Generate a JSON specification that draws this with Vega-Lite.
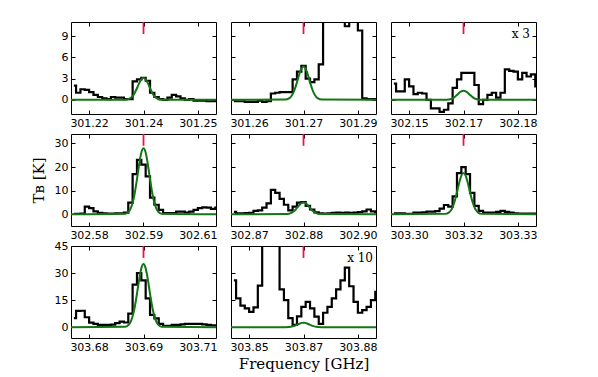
{
"$schema":"https://vega.github.io/schema/vega-lite/v6.json",
"padding":{"left":30,"top":20,"right":5,"bottom":5},
"background":"white",
"bounds":"flush",
"columns":3,
"spacing":{"row":20,"column":15},
"config":{
 "view":{"stroke":"black","strokeWidth":1},
 "axis":{"grid":false,"domain":false,"ticks":true,"tickSize":-4,"tickColor":"black","tickWidth":1,"labelFont":"DejaVu Sans","labelFontSize":11,"labelColor":"black","labelPadding":7,"labelFlush":false,"labelOverlap":false,"titleFont":"DejaVu Serif","titleFontSize":15,"titleFontWeight":"normal","titleColor":"black"}
},
"datasets":{
"spec":[
{"p":1,"f":301.2206,"t":2.0},{"p":1,"f":301.2218,"t":1.0},{"p":1,"f":301.2230,"t":1.5},{"p":1,"f":301.2242,"t":1.4},{"p":1,"f":301.2254,"t":1.1},{"p":1,"f":301.2266,"t":0.7},{"p":1,"f":301.2278,"t":0.4},{"p":1,"f":301.2290,"t":0.2},{"p":1,"f":301.2302,"t":0.1},{"p":1,"f":301.2314,"t":0.4},{"p":1,"f":301.2326,"t":0.3},{"p":1,"f":301.2338,"t":0.3},{"p":1,"f":301.2350,"t":0.1},{"p":1,"f":301.2362,"t":0.1},{"p":1,"f":301.2374,"t":2.6},{"p":1,"f":301.2386,"t":2.9},{"p":1,"f":301.2398,"t":3.1},{"p":1,"f":301.2410,"t":2.7},{"p":1,"f":301.2422,"t":1.0},{"p":1,"f":301.2434,"t":0.4},{"p":1,"f":301.2446,"t":0.1},{"p":1,"f":301.2458,"t":0.0},{"p":1,"f":301.2470,"t":0.3},{"p":1,"f":301.2482,"t":0.7},{"p":1,"f":301.2494,"t":0.5},{"p":1,"f":301.2506,"t":0.2},{"p":1,"f":301.2518,"t":0.0},{"p":1,"f":301.2530,"t":0.1},{"p":1,"f":301.2542,"t":-0.1},{"p":1,"f":301.2554,"t":-0.1},{"p":1,"f":301.2566,"t":-0.1},{"p":1,"f":301.2578,"t":-0.2},{"p":1,"f":301.2590,"t":-0.2},{"p":1,"f":301.2602,"t":-0.2},
{"p":2,"f":301.2513,"t":-0.2},{"p":2,"f":301.2525,"t":-0.2},{"p":2,"f":301.2537,"t":-0.2},{"p":2,"f":301.2549,"t":-0.3},{"p":2,"f":301.2561,"t":-0.3},{"p":2,"f":301.2573,"t":-0.3},{"p":2,"f":301.2585,"t":-0.1},{"p":2,"f":301.2597,"t":-0.3},{"p":2,"f":301.2609,"t":-0.2},{"p":2,"f":301.2621,"t":0.9},{"p":2,"f":301.2633,"t":1.0},{"p":2,"f":301.2645,"t":1.1},{"p":2,"f":301.2657,"t":1.1},{"p":2,"f":301.2669,"t":1.1},{"p":2,"f":301.2681,"t":2.9},{"p":2,"f":301.2693,"t":4.0},{"p":2,"f":301.2705,"t":4.8},{"p":2,"f":301.2717,"t":3.0},{"p":2,"f":301.2729,"t":2.5},{"p":2,"f":301.2741,"t":2.9},{"p":2,"f":301.2753,"t":5.0},{"p":2,"f":301.2765,"t":14},{"p":2,"f":301.2777,"t":20},{"p":2,"f":301.2789,"t":20},{"p":2,"f":301.2801,"t":20},{"p":2,"f":301.2813,"t":15},{"p":2,"f":301.2825,"t":10.4},{"p":2,"f":301.2837,"t":15},{"p":2,"f":301.2849,"t":12},{"p":2,"f":301.2861,"t":9.8},{"p":2,"f":301.2873,"t":0.2},{"p":2,"f":301.2885,"t":0.1},{"p":2,"f":301.2897,"t":0.1},{"p":2,"f":301.2909,"t":0.1},
{"p":3,"f":302.1483,"t":2.3},{"p":3,"f":302.1495,"t":1.2},{"p":3,"f":302.1507,"t":1.2},{"p":3,"f":302.1519,"t":2.9},{"p":3,"f":302.1531,"t":1.9},{"p":3,"f":302.1543,"t":0.8},{"p":3,"f":302.1555,"t":1.0},{"p":3,"f":302.1567,"t":0.9},{"p":3,"f":302.1579,"t":0.0},{"p":3,"f":302.1591,"t":-1.2},{"p":3,"f":302.1603,"t":-1.2},{"p":3,"f":302.1615,"t":-1.7},{"p":3,"f":302.1627,"t":-1.4},{"p":3,"f":302.1639,"t":-0.5},{"p":3,"f":302.1651,"t":1.7},{"p":3,"f":302.1663,"t":2.9},{"p":3,"f":302.1675,"t":3.8},{"p":3,"f":302.1687,"t":3.8},{"p":3,"f":302.1699,"t":3.8},{"p":3,"f":302.1711,"t":2.1},{"p":3,"f":302.1723,"t":-0.6},{"p":3,"f":302.1735,"t":0.0},{"p":3,"f":302.1747,"t":0.7},{"p":3,"f":302.1759,"t":1.0},{"p":3,"f":302.1771,"t":0.3},{"p":3,"f":302.1783,"t":1.0},{"p":3,"f":302.1795,"t":4.3},{"p":3,"f":302.1807,"t":4.1},{"p":3,"f":302.1819,"t":4.0},{"p":3,"f":302.1831,"t":2.9},{"p":3,"f":302.1843,"t":3.8},{"p":3,"f":302.1855,"t":3.3},{"p":3,"f":302.1867,"t":3.6},{"p":3,"f":302.1879,"t":1.9},
{"p":4,"f":302.5733,"t":0.1},{"p":4,"f":302.5745,"t":0.1},{"p":4,"f":302.5757,"t":0.3},{"p":4,"f":302.5769,"t":3.2},{"p":4,"f":302.5781,"t":2.6},{"p":4,"f":302.5793,"t":1.2},{"p":4,"f":302.5805,"t":0.6},{"p":4,"f":302.5817,"t":0.4},{"p":4,"f":302.5829,"t":0.3},{"p":4,"f":302.5841,"t":0.3},{"p":4,"f":302.5853,"t":0.4},{"p":4,"f":302.5865,"t":0.4},{"p":4,"f":302.5877,"t":0.7},{"p":4,"f":302.5889,"t":4.9},{"p":4,"f":302.5901,"t":17},{"p":4,"f":302.5913,"t":23},{"p":4,"f":302.5925,"t":21},{"p":4,"f":302.5937,"t":16},{"p":4,"f":302.5949,"t":7.0},{"p":4,"f":302.5961,"t":4.0},{"p":4,"f":302.5973,"t":1.8},{"p":4,"f":302.5985,"t":0.5},{"p":4,"f":302.5997,"t":0.5},{"p":4,"f":302.6009,"t":0.5},{"p":4,"f":302.6021,"t":1.1},{"p":4,"f":302.6033,"t":1.1},{"p":4,"f":302.6045,"t":0.7},{"p":4,"f":302.6057,"t":1.1},{"p":4,"f":302.6069,"t":1.8},{"p":4,"f":302.6081,"t":2.6},{"p":4,"f":302.6093,"t":2.9},{"p":4,"f":302.6105,"t":2.8},{"p":4,"f":302.6117,"t":2.3},{"p":4,"f":302.6129,"t":2.8},
{"p":5,"f":302.8633,"t":1.0},{"p":5,"f":302.8645,"t":0.4},{"p":5,"f":302.8657,"t":0.4},{"p":5,"f":302.8669,"t":0.5},{"p":5,"f":302.8681,"t":0.6},{"p":5,"f":302.8693,"t":1.4},{"p":5,"f":302.8705,"t":1.6},{"p":5,"f":302.8717,"t":2.8},{"p":5,"f":302.8729,"t":4.6},{"p":5,"f":302.8741,"t":10.3},{"p":5,"f":302.8753,"t":9.0},{"p":5,"f":302.8765,"t":6.5},{"p":5,"f":302.8777,"t":4.0},{"p":5,"f":302.8789,"t":1.6},{"p":5,"f":302.8801,"t":3.2},{"p":5,"f":302.8813,"t":4.9},{"p":5,"f":302.8825,"t":5.1},{"p":5,"f":302.8837,"t":3.5},{"p":5,"f":302.8849,"t":2.0},{"p":5,"f":302.8861,"t":0.8},{"p":5,"f":302.8873,"t":0.4},{"p":5,"f":302.8885,"t":0.3},{"p":5,"f":302.8897,"t":0.4},{"p":5,"f":302.8909,"t":0.6},{"p":5,"f":302.8921,"t":0.7},{"p":5,"f":302.8933,"t":0.6},{"p":5,"f":302.8945,"t":0.7},{"p":5,"f":302.8957,"t":0.6},{"p":5,"f":302.8969,"t":0.7},{"p":5,"f":302.8981,"t":0.9},{"p":5,"f":302.8993,"t":1.2},{"p":5,"f":302.9005,"t":2.0},{"p":5,"f":302.9017,"t":1.2},{"p":5,"f":302.9029,"t":0.9},
{"p":6,"f":303.2983,"t":0.4},{"p":6,"f":303.2995,"t":0.4},{"p":6,"f":303.3007,"t":0.4},{"p":6,"f":303.3019,"t":0.2},{"p":6,"f":303.3031,"t":0.1},{"p":6,"f":303.3043,"t":0.7},{"p":6,"f":303.3055,"t":0.7},{"p":6,"f":303.3067,"t":0.8},{"p":6,"f":303.3079,"t":1.1},{"p":6,"f":303.3091,"t":1.1},{"p":6,"f":303.3103,"t":1.3},{"p":6,"f":303.3115,"t":2.4},{"p":6,"f":303.3127,"t":3.9},{"p":6,"f":303.3139,"t":3.2},{"p":6,"f":303.3151,"t":7.6},{"p":6,"f":303.3163,"t":17.4},{"p":6,"f":303.3175,"t":20},{"p":6,"f":303.3187,"t":17},{"p":6,"f":303.3199,"t":9.0},{"p":6,"f":303.3211,"t":3.5},{"p":6,"f":303.3223,"t":1.4},{"p":6,"f":303.3235,"t":0.7},{"p":6,"f":303.3247,"t":0.7},{"p":6,"f":303.3259,"t":0.7},{"p":6,"f":303.3271,"t":1.0},{"p":6,"f":303.3283,"t":1.4},{"p":6,"f":303.3295,"t":1.0},{"p":6,"f":303.3307,"t":0.7},{"p":6,"f":303.3319,"t":0.4},{"p":6,"f":303.3331,"t":0.3},{"p":6,"f":303.3343,"t":0.3},{"p":6,"f":303.3355,"t":0.3},{"p":6,"f":303.3367,"t":0.3},{"p":6,"f":303.3379,"t":0.3},
{"p":7,"f":303.6733,"t":5.0},{"p":7,"f":303.6745,"t":9.0},{"p":7,"f":303.6757,"t":9.1},{"p":7,"f":303.6769,"t":5.5},{"p":7,"f":303.6781,"t":2.5},{"p":7,"f":303.6793,"t":1.8},{"p":7,"f":303.6805,"t":1.3},{"p":7,"f":303.6817,"t":1.3},{"p":7,"f":303.6829,"t":1.3},{"p":7,"f":303.6841,"t":1.4},{"p":7,"f":303.6853,"t":2.2},{"p":7,"f":303.6865,"t":3.1},{"p":7,"f":303.6877,"t":2.6},{"p":7,"f":303.6889,"t":7.5},{"p":7,"f":303.6901,"t":23.6},{"p":7,"f":303.6913,"t":30},{"p":7,"f":303.6925,"t":26},{"p":7,"f":303.6937,"t":16},{"p":7,"f":303.6949,"t":6.8},{"p":7,"f":303.6961,"t":4.9},{"p":7,"f":303.6973,"t":1.8},{"p":7,"f":303.6985,"t":0.7},{"p":7,"f":303.6997,"t":0.7},{"p":7,"f":303.7009,"t":1.3},{"p":7,"f":303.7021,"t":1.3},{"p":7,"f":303.7033,"t":1.6},{"p":7,"f":303.7045,"t":1.8},{"p":7,"f":303.7057,"t":1.8},{"p":7,"f":303.7069,"t":1.8},{"p":7,"f":303.7081,"t":1.8},{"p":7,"f":303.7093,"t":1.5},{"p":7,"f":303.7105,"t":1.3},{"p":7,"f":303.7117,"t":1.0},{"p":7,"f":303.7129,"t":1.0},
{"p":8,"f":303.8483,"t":26},{"p":8,"f":303.8495,"t":16},{"p":8,"f":303.8507,"t":12},{"p":8,"f":303.8519,"t":10.4},{"p":8,"f":303.8531,"t":8.5},{"p":8,"f":303.8543,"t":11},{"p":8,"f":303.8555,"t":23},{"p":8,"f":303.8567,"t":60},{"p":8,"f":303.8579,"t":60},{"p":8,"f":303.8591,"t":60},{"p":8,"f":303.8603,"t":60},{"p":8,"f":303.8615,"t":21},{"p":8,"f":303.8627,"t":15},{"p":8,"f":303.8639,"t":5.0},{"p":8,"f":303.8651,"t":1.3},{"p":8,"f":303.8663,"t":6},{"p":8,"f":303.8675,"t":11.3},{"p":8,"f":303.8687,"t":14},{"p":8,"f":303.8699,"t":10.4},{"p":8,"f":303.8711,"t":5.9},{"p":8,"f":303.8723,"t":1.8},{"p":8,"f":303.8735,"t":8.0},{"p":8,"f":303.8747,"t":11.3},{"p":8,"f":303.8759,"t":16},{"p":8,"f":303.8771,"t":21},{"p":8,"f":303.8783,"t":26},{"p":8,"f":303.8795,"t":33},{"p":8,"f":303.8807,"t":22.7},{"p":8,"f":303.8819,"t":14},{"p":8,"f":303.8831,"t":8},{"p":8,"f":303.8843,"t":9.5},{"p":8,"f":303.8855,"t":11.3},{"p":8,"f":303.8867,"t":15},{"p":8,"f":303.8879,"t":19.6}
],
"fit":[
{"p":1,"f":301.2198,"t":0},{"p":1,"f":301.2348,"t":0.02},{"p":1,"f":301.2358,"t":0.14},{"p":1,"f":301.2363,"t":0.28},{"p":1,"f":301.2368,"t":0.53},{"p":1,"f":301.2373,"t":0.91},{"p":1,"f":301.2378,"t":1.42},{"p":1,"f":301.2383,"t":2.0},{"p":1,"f":301.2388,"t":2.55},{"p":1,"f":301.2393,"t":2.95},{"p":1,"f":301.2398,"t":3.1},{"p":1,"f":301.2403,"t":2.95},{"p":1,"f":301.2408,"t":2.55},{"p":1,"f":301.2413,"t":2.0},{"p":1,"f":301.2418,"t":1.42},{"p":1,"f":301.2423,"t":0.91},{"p":1,"f":301.2428,"t":0.53},{"p":1,"f":301.2433,"t":0.28},{"p":1,"f":301.2438,"t":0.14},{"p":1,"f":301.2448,"t":0.02},{"p":1,"f":301.2598,"t":0},
{"p":2,"f":301.2505,"t":0},{"p":2,"f":301.2655,"t":0.04},{"p":2,"f":301.2665,"t":0.21},{"p":2,"f":301.2670,"t":0.43},{"p":2,"f":301.2675,"t":0.81},{"p":2,"f":301.2680,"t":1.39},{"p":2,"f":301.2685,"t":2.15},{"p":2,"f":301.2690,"t":3.03},{"p":2,"f":301.2695,"t":3.87},{"p":2,"f":301.2700,"t":4.47},{"p":2,"f":301.2705,"t":4.7},{"p":2,"f":301.2710,"t":4.47},{"p":2,"f":301.2715,"t":3.87},{"p":2,"f":301.2720,"t":3.03},{"p":2,"f":301.2725,"t":2.15},{"p":2,"f":301.2730,"t":1.39},{"p":2,"f":301.2735,"t":0.81},{"p":2,"f":301.2740,"t":0.43},{"p":2,"f":301.2745,"t":0.21},{"p":2,"f":301.2755,"t":0.04},{"p":2,"f":301.2905,"t":0},
{"p":3,"f":302.1475,"t":0},{"p":3,"f":302.1625,"t":0.01},{"p":3,"f":302.1635,"t":0.06},{"p":3,"f":302.1640,"t":0.12},{"p":3,"f":302.1645,"t":0.22},{"p":3,"f":302.1650,"t":0.38},{"p":3,"f":302.1655,"t":0.6},{"p":3,"f":302.1660,"t":0.84},{"p":3,"f":302.1665,"t":1.07},{"p":3,"f":302.1670,"t":1.24},{"p":3,"f":302.1675,"t":1.3},{"p":3,"f":302.1680,"t":1.24},{"p":3,"f":302.1685,"t":1.07},{"p":3,"f":302.1690,"t":0.84},{"p":3,"f":302.1695,"t":0.6},{"p":3,"f":302.1700,"t":0.38},{"p":3,"f":302.1705,"t":0.22},{"p":3,"f":302.1710,"t":0.12},{"p":3,"f":302.1715,"t":0.06},{"p":3,"f":302.1725,"t":0.01},{"p":3,"f":302.1875,"t":0},
{"p":4,"f":302.5725,"t":0},{"p":4,"f":302.5875,"t":0.22},{"p":4,"f":302.5885,"t":1.23},{"p":4,"f":302.5890,"t":2.55},{"p":4,"f":302.5895,"t":4.82},{"p":4,"f":302.5900,"t":8.26},{"p":4,"f":302.5905,"t":12.82},{"p":4,"f":302.5910,"t":18.03},{"p":4,"f":302.5915,"t":23.04},{"p":4,"f":302.5920,"t":26.66},{"p":4,"f":302.5925,"t":28},{"p":4,"f":302.5930,"t":26.66},{"p":4,"f":302.5935,"t":23.04},{"p":4,"f":302.5940,"t":18.03},{"p":4,"f":302.5945,"t":12.82},{"p":4,"f":302.5950,"t":8.26},{"p":4,"f":302.5955,"t":4.82},{"p":4,"f":302.5960,"t":2.55},{"p":4,"f":302.5965,"t":1.23},{"p":4,"f":302.5975,"t":0.22},{"p":4,"f":302.6125,"t":0},
{"p":5,"f":302.8625,"t":0},{"p":5,"f":302.8775,"t":0.04},{"p":5,"f":302.8785,"t":0.22},{"p":5,"f":302.8790,"t":0.46},{"p":5,"f":302.8795,"t":0.86},{"p":5,"f":302.8800,"t":1.48},{"p":5,"f":302.8805,"t":2.29},{"p":5,"f":302.8810,"t":3.22},{"p":5,"f":302.8815,"t":4.12},{"p":5,"f":302.8820,"t":4.76},{"p":5,"f":302.8825,"t":5.0},{"p":5,"f":302.8830,"t":4.76},{"p":5,"f":302.8835,"t":4.12},{"p":5,"f":302.8840,"t":3.22},{"p":5,"f":302.8845,"t":2.29},{"p":5,"f":302.8850,"t":1.48},{"p":5,"f":302.8855,"t":0.86},{"p":5,"f":302.8860,"t":0.46},{"p":5,"f":302.8865,"t":0.22},{"p":5,"f":302.8875,"t":0.04},{"p":5,"f":302.9025,"t":0},
{"p":6,"f":303.2975,"t":0},{"p":6,"f":303.3125,"t":0.14},{"p":6,"f":303.3135,"t":0.77},{"p":6,"f":303.3140,"t":1.59},{"p":6,"f":303.3145,"t":3.01},{"p":6,"f":303.3150,"t":5.16},{"p":6,"f":303.3155,"t":8.02},{"p":6,"f":303.3160,"t":11.27},{"p":6,"f":303.3165,"t":14.4},{"p":6,"f":303.3170,"t":16.66},{"p":6,"f":303.3175,"t":17.5},{"p":6,"f":303.3180,"t":16.66},{"p":6,"f":303.3185,"t":14.4},{"p":6,"f":303.3190,"t":11.27},{"p":6,"f":303.3195,"t":8.02},{"p":6,"f":303.3200,"t":5.16},{"p":6,"f":303.3205,"t":3.01},{"p":6,"f":303.3210,"t":1.59},{"p":6,"f":303.3215,"t":0.77},{"p":6,"f":303.3225,"t":0.14},{"p":6,"f":303.3375,"t":0},
{"p":7,"f":303.6725,"t":0},{"p":7,"f":303.6875,"t":0.28},{"p":7,"f":303.6885,"t":1.54},{"p":7,"f":303.6890,"t":3.19},{"p":7,"f":303.6895,"t":6.02},{"p":7,"f":303.6900,"t":10.33},{"p":7,"f":303.6905,"t":16.03},{"p":7,"f":303.6910,"t":22.54},{"p":7,"f":303.6915,"t":28.8},{"p":7,"f":303.6920,"t":33.32},{"p":7,"f":303.6925,"t":35},{"p":7,"f":303.6930,"t":33.32},{"p":7,"f":303.6935,"t":28.8},{"p":7,"f":303.6940,"t":22.54},{"p":7,"f":303.6945,"t":16.03},{"p":7,"f":303.6950,"t":10.33},{"p":7,"f":303.6955,"t":6.02},{"p":7,"f":303.6960,"t":3.19},{"p":7,"f":303.6965,"t":1.54},{"p":7,"f":303.6975,"t":0.28},{"p":7,"f":303.7125,"t":0},
{"p":8,"f":303.8475,"t":0},{"p":8,"f":303.8625,"t":0.02},{"p":8,"f":303.8635,"t":0.11},{"p":8,"f":303.8640,"t":0.23},{"p":8,"f":303.8645,"t":0.43},{"p":8,"f":303.8650,"t":0.74},{"p":8,"f":303.8655,"t":1.15},{"p":8,"f":303.8660,"t":1.61},{"p":8,"f":303.8665,"t":2.06},{"p":8,"f":303.8670,"t":2.38},{"p":8,"f":303.8675,"t":2.5},{"p":8,"f":303.8680,"t":2.38},{"p":8,"f":303.8685,"t":2.06},{"p":8,"f":303.8690,"t":1.61},{"p":8,"f":303.8695,"t":1.15},{"p":8,"f":303.8700,"t":0.74},{"p":8,"f":303.8705,"t":0.43},{"p":8,"f":303.8710,"t":0.23},{"p":8,"f":303.8715,"t":0.11},{"p":8,"f":303.8725,"t":0.02},{"p":8,"f":303.8875,"t":0}
],
"lines":[
{"p":1,"f":301.2398,"y":11,"y2":9.3},{"p":2,"f":301.2705,"y":11,"y2":9.3},{"p":3,"f":302.1675,"y":11,"y2":9.3},
{"p":4,"f":302.5925,"y":34,"y2":29},{"p":5,"f":302.8825,"y":34,"y2":29},{"p":6,"f":303.3175,"y":34,"y2":29},
{"p":7,"f":303.6925,"y":45,"y2":38.4},{"p":8,"f":303.8675,"y":45,"y2":38.4}
],
"notes":[
{"p":3,"f":302.1833,"y":9.3,"note":"x 3"},{"p":8,"f":303.8831,"y":38.5,"note":"x 10"}
]
},
"concat":[
{"width":145,"height":92,"resolve":{"axis":{"x":"independent","y":"independent"}},"layer":[
 {"data":{"name":"spec"},"transform":[{"filter":"datum.p==1"}],"mark":{"type":"line","interpolate":"step","color":"black","strokeWidth":2.2,"clip":true},
  "encoding":{"x":{"field":"f","type":"quantitative","scale":{"domain":[301.2198,301.2598],"nice":false,"zero":false},"axis":{"values":[301.2248,301.2398,301.2548],"format":".2f","title":null}},
   "y":{"field":"t","type":"quantitative","scale":{"domain":[-2,11],"nice":false,"zero":false},"axis":{"values":[0,3,6,9],"title":null}}}},
 {"data":{"name":"fit"},"transform":[{"filter":"datum.p==1"}],"mark":{"type":"line","interpolate":"monotone","color":"#137513","strokeWidth":2,"clip":true},
  "encoding":{"x":{"field":"f","type":"quantitative","scale":{"domain":[301.2198,301.2598],"nice":false,"zero":false},"axis":{"orient":"top","values":[301.2248,301.2398,301.2548],"labels":false,"title":null}},
   "y":{"field":"t","type":"quantitative","scale":{"domain":[-2,11],"nice":false,"zero":false},"axis":{"orient":"right","values":[0,3,6,9],"labels":false,"title":null}}}},
 {"data":{"name":"lines"},"transform":[{"filter":"datum.p==1"}],"mark":{"type":"rule","color":"#e3174a","strokeWidth":1.8},
  "encoding":{"x":{"field":"f","type":"quantitative","axis":null},"y":{"field":"y","type":"quantitative","axis":null},"y2":{"field":"y2"}}}
]},
{"width":145,"height":92,"resolve":{"axis":{"x":"independent","y":"independent"}},"layer":[
 {"data":{"name":"spec"},"transform":[{"filter":"datum.p==2"}],"mark":{"type":"line","interpolate":"step","color":"black","strokeWidth":2.2,"clip":true},
  "encoding":{"x":{"field":"f","type":"quantitative","scale":{"domain":[301.2505,301.2905],"nice":false,"zero":false},"axis":{"values":[301.2555,301.2705,301.2855],"format":".2f","title":null}},
   "y":{"field":"t","type":"quantitative","scale":{"domain":[-2,11],"nice":false,"zero":false},"axis":{"values":[0,3,6,9],"labels":false,"title":null}}}},
 {"data":{"name":"fit"},"transform":[{"filter":"datum.p==2"}],"mark":{"type":"line","interpolate":"monotone","color":"#137513","strokeWidth":2,"clip":true},
  "encoding":{"x":{"field":"f","type":"quantitative","scale":{"domain":[301.2505,301.2905],"nice":false,"zero":false},"axis":{"orient":"top","values":[301.2555,301.2705,301.2855],"labels":false,"title":null}},
   "y":{"field":"t","type":"quantitative","scale":{"domain":[-2,11],"nice":false,"zero":false},"axis":{"orient":"right","values":[0,3,6,9],"labels":false,"title":null}}}},
 {"data":{"name":"lines"},"transform":[{"filter":"datum.p==2"}],"mark":{"type":"rule","color":"#e3174a","strokeWidth":1.8},
  "encoding":{"x":{"field":"f","type":"quantitative","axis":null},"y":{"field":"y","type":"quantitative","axis":null},"y2":{"field":"y2"}}}
]},
{"width":145,"height":92,"resolve":{"axis":{"x":"independent","y":"independent"}},"layer":[
 {"data":{"name":"spec"},"transform":[{"filter":"datum.p==3"}],"mark":{"type":"line","interpolate":"step","color":"black","strokeWidth":2.2,"clip":true},
  "encoding":{"x":{"field":"f","type":"quantitative","scale":{"domain":[302.1475,302.1875],"nice":false,"zero":false},"axis":{"values":[302.1525,302.1675,302.1825],"format":".2f","title":null}},
   "y":{"field":"t","type":"quantitative","scale":{"domain":[-2,11],"nice":false,"zero":false},"axis":{"values":[0,3,6,9],"labels":false,"title":null}}}},
 {"data":{"name":"fit"},"transform":[{"filter":"datum.p==3"}],"mark":{"type":"line","interpolate":"monotone","color":"#137513","strokeWidth":2,"clip":true},
  "encoding":{"x":{"field":"f","type":"quantitative","scale":{"domain":[302.1475,302.1875],"nice":false,"zero":false},"axis":{"orient":"top","values":[302.1525,302.1675,302.1825],"labels":false,"title":null}},
   "y":{"field":"t","type":"quantitative","scale":{"domain":[-2,11],"nice":false,"zero":false},"axis":{"orient":"right","values":[0,3,6,9],"labels":false,"title":null}}}},
 {"data":{"name":"lines"},"transform":[{"filter":"datum.p==3"}],"mark":{"type":"rule","color":"#e3174a","strokeWidth":1.8},
  "encoding":{"x":{"field":"f","type":"quantitative","axis":null},"y":{"field":"y","type":"quantitative","axis":null},"y2":{"field":"y2"}}},
 {"data":{"name":"notes"},"transform":[{"filter":"datum.p==3"}],"mark":{"type":"text","font":"DejaVu Serif","fontSize":12,"color":"black","align":"center","baseline":"middle"},
  "encoding":{"x":{"field":"f","type":"quantitative","axis":null},"y":{"field":"y","type":"quantitative","axis":null},"text":{"field":"note"}}}
]},
{"width":145,"height":92,"resolve":{"axis":{"x":"independent","y":"independent"}},"layer":[
 {"data":{"name":"spec"},"transform":[{"filter":"datum.p==4"}],"mark":{"type":"line","interpolate":"step","color":"black","strokeWidth":2.2,"clip":true},
  "encoding":{"x":{"field":"f","type":"quantitative","scale":{"domain":[302.5725,302.6125],"nice":false,"zero":false},"axis":{"values":[302.5775,302.5925,302.6075],"format":".2f","title":null}},
   "y":{"field":"t","type":"quantitative","scale":{"domain":[-5,34],"nice":false,"zero":false},"axis":{"values":[0,10,20,30],"title":"Tʙ [K]","titlePadding":8}}}},
 {"data":{"name":"fit"},"transform":[{"filter":"datum.p==4"}],"mark":{"type":"line","interpolate":"monotone","color":"#137513","strokeWidth":2,"clip":true},
  "encoding":{"x":{"field":"f","type":"quantitative","scale":{"domain":[302.5725,302.6125],"nice":false,"zero":false},"axis":{"orient":"top","values":[302.5775,302.5925,302.6075],"labels":false,"title":null}},
   "y":{"field":"t","type":"quantitative","scale":{"domain":[-5,34],"nice":false,"zero":false},"axis":{"orient":"right","values":[0,10,20,30],"labels":false,"title":null}}}},
 {"data":{"name":"lines"},"transform":[{"filter":"datum.p==4"}],"mark":{"type":"rule","color":"#e3174a","strokeWidth":1.8},
  "encoding":{"x":{"field":"f","type":"quantitative","axis":null},"y":{"field":"y","type":"quantitative","axis":null},"y2":{"field":"y2"}}}
]},
{"width":145,"height":92,"resolve":{"axis":{"x":"independent","y":"independent"}},"layer":[
 {"data":{"name":"spec"},"transform":[{"filter":"datum.p==5"}],"mark":{"type":"line","interpolate":"step","color":"black","strokeWidth":2.2,"clip":true},
  "encoding":{"x":{"field":"f","type":"quantitative","scale":{"domain":[302.8625,302.9025],"nice":false,"zero":false},"axis":{"values":[302.8675,302.8825,302.8975],"format":".2f","title":null}},
   "y":{"field":"t","type":"quantitative","scale":{"domain":[-5,34],"nice":false,"zero":false},"axis":{"values":[0,10,20,30],"labels":false,"title":null}}}},
 {"data":{"name":"fit"},"transform":[{"filter":"datum.p==5"}],"mark":{"type":"line","interpolate":"monotone","color":"#137513","strokeWidth":2,"clip":true},
  "encoding":{"x":{"field":"f","type":"quantitative","scale":{"domain":[302.8625,302.9025],"nice":false,"zero":false},"axis":{"orient":"top","values":[302.8675,302.8825,302.8975],"labels":false,"title":null}},
   "y":{"field":"t","type":"quantitative","scale":{"domain":[-5,34],"nice":false,"zero":false},"axis":{"orient":"right","values":[0,10,20,30],"labels":false,"title":null}}}},
 {"data":{"name":"lines"},"transform":[{"filter":"datum.p==5"}],"mark":{"type":"rule","color":"#e3174a","strokeWidth":1.8},
  "encoding":{"x":{"field":"f","type":"quantitative","axis":null},"y":{"field":"y","type":"quantitative","axis":null},"y2":{"field":"y2"}}}
]},
{"width":145,"height":92,"resolve":{"axis":{"x":"independent","y":"independent"}},"layer":[
 {"data":{"name":"spec"},"transform":[{"filter":"datum.p==6"}],"mark":{"type":"line","interpolate":"step","color":"black","strokeWidth":2.2,"clip":true},
  "encoding":{"x":{"field":"f","type":"quantitative","scale":{"domain":[303.2975,303.3375],"nice":false,"zero":false},"axis":{"values":[303.3025,303.3175,303.3325],"format":".2f","title":null}},
   "y":{"field":"t","type":"quantitative","scale":{"domain":[-5,34],"nice":false,"zero":false},"axis":{"values":[0,10,20,30],"labels":false,"title":null}}}},
 {"data":{"name":"fit"},"transform":[{"filter":"datum.p==6"}],"mark":{"type":"line","interpolate":"monotone","color":"#137513","strokeWidth":2,"clip":true},
  "encoding":{"x":{"field":"f","type":"quantitative","scale":{"domain":[303.2975,303.3375],"nice":false,"zero":false},"axis":{"orient":"top","values":[303.3025,303.3175,303.3325],"labels":false,"title":null}},
   "y":{"field":"t","type":"quantitative","scale":{"domain":[-5,34],"nice":false,"zero":false},"axis":{"orient":"right","values":[0,10,20,30],"labels":false,"title":null}}}},
 {"data":{"name":"lines"},"transform":[{"filter":"datum.p==6"}],"mark":{"type":"rule","color":"#e3174a","strokeWidth":1.8},
  "encoding":{"x":{"field":"f","type":"quantitative","axis":null},"y":{"field":"y","type":"quantitative","axis":null},"y2":{"field":"y2"}}}
]},
{"width":145,"height":92,"resolve":{"axis":{"x":"independent","y":"independent"}},"layer":[
 {"data":{"name":"spec"},"transform":[{"filter":"datum.p==7"}],"mark":{"type":"line","interpolate":"step","color":"black","strokeWidth":2.2,"clip":true},
  "encoding":{"x":{"field":"f","type":"quantitative","scale":{"domain":[303.6725,303.7125],"nice":false,"zero":false},"axis":{"values":[303.6775,303.6925,303.7075],"format":".2f","title":null}},
   "y":{"field":"t","type":"quantitative","scale":{"domain":[-6,45],"nice":false,"zero":false},"axis":{"values":[0,15,30,45],"title":null}}}},
 {"data":{"name":"fit"},"transform":[{"filter":"datum.p==7"}],"mark":{"type":"line","interpolate":"monotone","color":"#137513","strokeWidth":2,"clip":true},
  "encoding":{"x":{"field":"f","type":"quantitative","scale":{"domain":[303.6725,303.7125],"nice":false,"zero":false},"axis":{"orient":"top","values":[303.6775,303.6925,303.7075],"labels":false,"title":null}},
   "y":{"field":"t","type":"quantitative","scale":{"domain":[-6,45],"nice":false,"zero":false},"axis":{"orient":"right","values":[0,15,30,45],"labels":false,"title":null}}}},
 {"data":{"name":"lines"},"transform":[{"filter":"datum.p==7"}],"mark":{"type":"rule","color":"#e3174a","strokeWidth":1.8},
  "encoding":{"x":{"field":"f","type":"quantitative","axis":null},"y":{"field":"y","type":"quantitative","axis":null},"y2":{"field":"y2"}}}
]},
{"width":145,"height":92,"resolve":{"axis":{"x":"independent","y":"independent"}},"layer":[
 {"data":{"name":"spec"},"transform":[{"filter":"datum.p==8"}],"mark":{"type":"line","interpolate":"step","color":"black","strokeWidth":2.2,"clip":true},
  "encoding":{"x":{"field":"f","type":"quantitative","scale":{"domain":[303.8475,303.8875],"nice":false,"zero":false},"axis":{"values":[303.8525,303.8675,303.8825],"format":".2f","title":"Frequency [GHz]","titlePadding":4}},
   "y":{"field":"t","type":"quantitative","scale":{"domain":[-6,45],"nice":false,"zero":false},"axis":{"values":[0,15,30,45],"labels":false,"title":null}}}},
 {"data":{"name":"fit"},"transform":[{"filter":"datum.p==8"}],"mark":{"type":"line","interpolate":"monotone","color":"#137513","strokeWidth":2,"clip":true},
  "encoding":{"x":{"field":"f","type":"quantitative","scale":{"domain":[303.8475,303.8875],"nice":false,"zero":false},"axis":{"orient":"top","values":[303.8525,303.8675,303.8825],"labels":false,"title":null}},
   "y":{"field":"t","type":"quantitative","scale":{"domain":[-6,45],"nice":false,"zero":false},"axis":{"orient":"right","values":[0,15,30,45],"labels":false,"title":null}}}},
 {"data":{"name":"lines"},"transform":[{"filter":"datum.p==8"}],"mark":{"type":"rule","color":"#e3174a","strokeWidth":1.8},
  "encoding":{"x":{"field":"f","type":"quantitative","axis":null},"y":{"field":"y","type":"quantitative","axis":null},"y2":{"field":"y2"}}},
 {"data":{"name":"notes"},"transform":[{"filter":"datum.p==8"}],"mark":{"type":"text","font":"DejaVu Serif","fontSize":12,"color":"black","align":"center","baseline":"middle"},
  "encoding":{"x":{"field":"f","type":"quantitative","axis":null},"y":{"field":"y","type":"quantitative","axis":null},"text":{"field":"note"}}}
]}
]
}
